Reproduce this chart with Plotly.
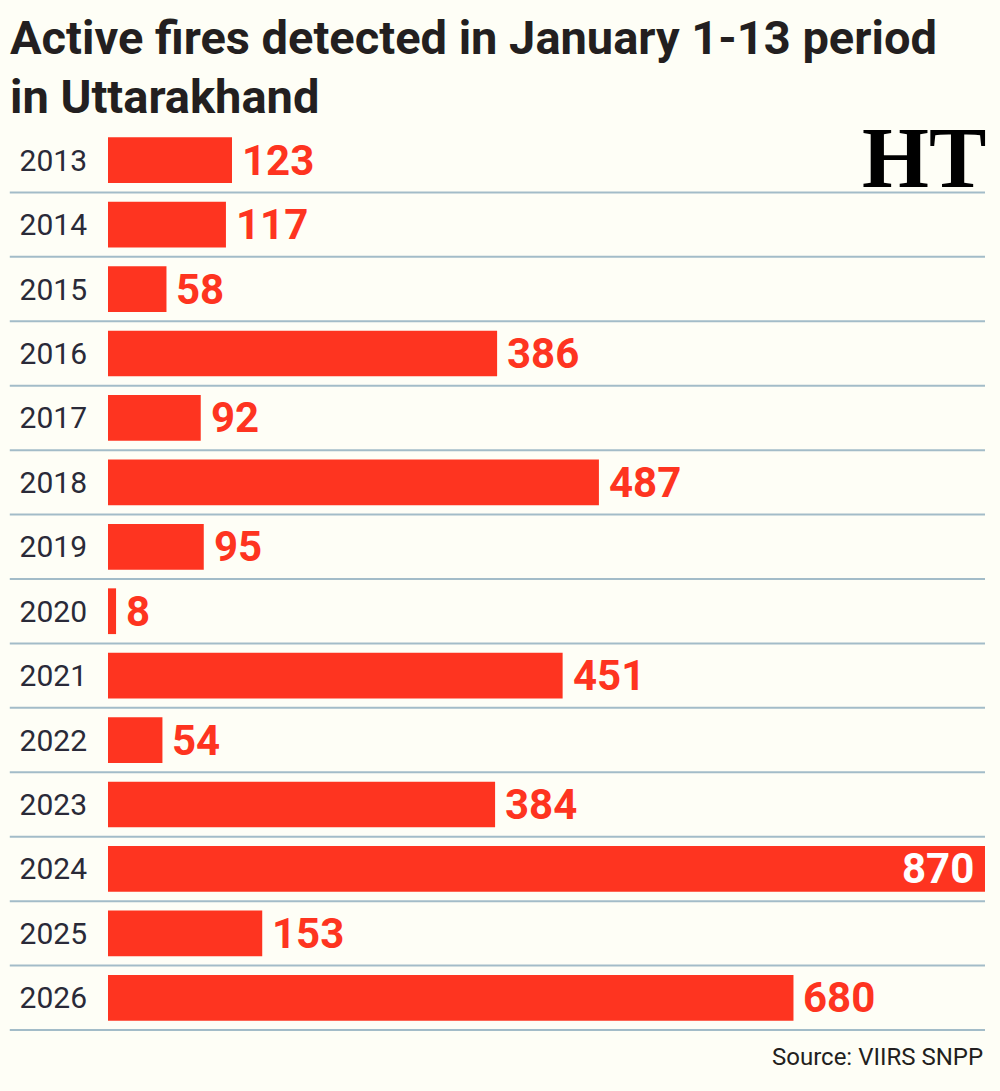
import plotly.graph_objects as go

years = [2013, 2014, 2015, 2016, 2017, 2018, 2019, 2020,
         2021, 2022, 2023, 2024, 2025, 2026]
fires = [123, 117, 58, 386, 92, 487, 95, 8, 451, 54, 384, 870, 153, 680]

title_line1 = "Active fires detected in January 1-13 period"
title_line2 = "in Uttarakhand"
source_text = "Source: VIIRS SNPP"
logo_text = "HT"

RED = "#FE3420"
BG = "#FEFEF6"
DARK = "#231F20"
LINE = "#A3BCC8"
FONT = "Roboto, Lato, sans-serif"

fig = go.Figure()
fig.add_trace(go.Bar(
    x=fires, y=years, orientation="h",
    marker=dict(color=RED, line=dict(width=0)),
    width=0.71,
    hoverinfo="skip",
))

n = len(years)
vmax = max(fires)
annotations = []
for yr, v in zip(years, fires):
    if v == vmax:
        annotations.append(dict(x=v, y=yr, xref="x", yref="y", text=f"<b>{v}</b>",
                                showarrow=False, xanchor="right", xshift=-9,
                                font=dict(family=FONT, size=42, color="white")))
    else:
        annotations.append(dict(x=v, y=yr, xref="x", yref="y", text=f"<b>{v}</b>",
                                showarrow=False, xanchor="left", xshift=8,
                                font=dict(family=FONT, size=42, color=RED)))

annotations += [
    dict(xref="paper", yref="paper", x=-0.114, y=1.1325, text=f"<b>{title_line1}</b>",
         showarrow=False, xanchor="left", yanchor="top",
         font=dict(family=FONT, size=47, color=DARK)),
    dict(xref="paper", yref="paper", x=-0.114, y=1.068, text=f"<b>{title_line2}</b>",
         showarrow=False, xanchor="left", yanchor="top",
         font=dict(family=FONT, size=47, color=DARK)),
    dict(xref="paper", yref="paper", x=1.0, y=-0.012, text=source_text,
         showarrow=False, xanchor="right", yanchor="top",
         font=dict(family=FONT, size=24, color=DARK)),
    dict(xref="paper", yref="paper", x=1.003, y=1.022, text=f"<b>{logo_text}</b>",
         showarrow=False, xanchor="right", yanchor="top",
         font=dict(family="Liberation Serif, DejaVu Serif, serif", size=86, color="black")),
]

shapes = []
for i in range(n):
    yp = 1 - (i + 1) / n
    shapes.append(dict(type="line", xref="paper", yref="paper",
                       x0=-0.112, x1=1.0, y0=yp, y1=yp,
                       line=dict(color=LINE, width=2), layer="below"))

fig.update_layout(
    width=1000, height=1091,
    margin=dict(l=108, r=15, t=128, b=61),
    paper_bgcolor=BG, plot_bgcolor=BG,
    showlegend=False,
    xaxis=dict(range=[0, vmax], showgrid=False, zeroline=False,
               showticklabels=False, fixedrange=True),
    yaxis=dict(range=[years[-1] + 0.5, years[0] - 0.5],
               tickmode="array", tickvals=years, ticktext=[str(y) for y in years],
               showgrid=False, zeroline=False, ticks="outside", ticklen=14,
               tickcolor=BG, tickwidth=1,
               tickfont=dict(family=FONT, size=30, color="#2A2A38")),
    annotations=annotations,
    shapes=shapes,
)

fig.write_html("out.html")
